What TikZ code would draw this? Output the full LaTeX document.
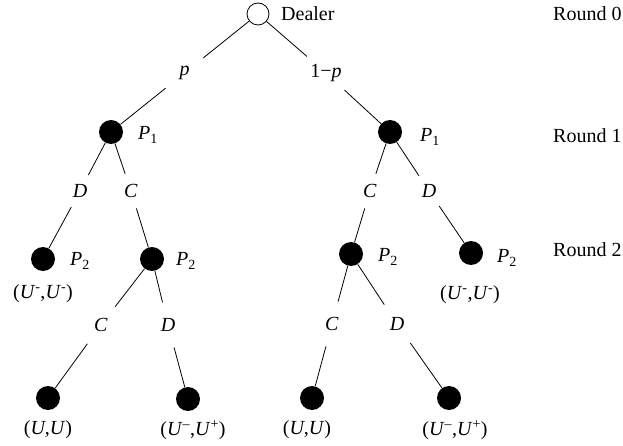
\documentclass[tikz,border=0pt]{standalone}
\usepackage{fontspec}
\setmainfont{Liberation Serif}
\begin{document}
\begin{tikzpicture}[x=1pt,y=-1pt,font=\fontsize{20}{24}\selectfont,
  dot/.style={circle,fill=black,inner sep=0pt,minimum size=24pt},
  opendot/.style={circle,draw,line width=0.8pt,inner sep=0pt,minimum size=22pt},
  lab/.style={circle,inner sep=0pt,minimum size=#1},
  lab/.default=36pt,
  conn/.style={line width=0.8pt},
  txt/.style={inner sep=0pt}]
\useasboundingbox (0,0) rectangle (623,446);
% decision nodes
\node[opendot] (root) at (258,14) {};
\node[dot] (L1) at (111,132) {};
\node[dot] (R1) at (390,132) {};
\node[dot] (LL2) at (43,259) {};
\node[dot] (LR2) at (152,259) {};
\node[dot] (RL2) at (351,254) {};
\node[dot] (RR2) at (471,253) {};
\node[dot] (A) at (48,398) {};
\node[dot] (B) at (188,399) {};
\node[dot] (Cc) at (312,398) {};
\node[dot] (Dd) at (449,398) {};
% edge labels
\node[lab=48pt] (p) at (184.5,73) {\textit{p}};
\node[lab=50pt] (q) at (326,73) {1−\textit{p}};
\node[lab] (D1L) at (80,191) {\textit{D}};
\node[lab] (C1L) at (131,191) {\textit{C}};
\node[lab] (C1R) at (370,191) {\textit{C}};
\node[lab] (D1R) at (429,191) {\textit{D}};
\node[lab=46pt] (C2L) at (101,325) {\textit{C}};
\node[lab=46pt] (D2L) at (168,325) {\textit{D}};
\node[lab=46pt] (C2R) at (332,324) {\textit{C}};
\node[lab=46pt] (D2R) at (397,324) {\textit{D}};
% connectors
\draw[conn] (root) -- (p) -- (L1);
\draw[conn] (root) -- (q) -- (R1);
\draw[conn] (L1) -- (D1L) -- (LL2);
\draw[conn] (L1) -- (C1L) -- (LR2);
\draw[conn] (R1) -- (C1R) -- (RL2);
\draw[conn] (R1) -- (D1R) -- (RR2);
\draw[conn] (LR2) -- (C2L) -- (A);
\draw[conn] (LR2) -- (D2L) -- (B);
\draw[conn] (RL2) -- (C2R) -- (Cc);
\draw[conn] (RL2) -- (D2R) -- (Dd);
% player labels
\node[txt,anchor=west] (dealer) at (281,14) {Dealer};
\node[txt] (pL1) at (148,135) {\textit{P}\textsubscript{1}};
\node[txt] (pR1) at (430,137) {\textit{P}\textsubscript{1}};
\node[txt] (pLL2) at (80,261) {\textit{P}\textsubscript{2}};
\node[txt] (pLR2) at (186,261) {\textit{P}\textsubscript{2}};
\node[txt] (pRL2) at (388,257) {\textit{P}\textsubscript{2}};
\node[txt] (pRR2) at (507,258) {\textit{P}\textsubscript{2}};
% payoffs
\node[txt] (uLL) at (43,294) {(\textit{U}\textsuperscript{-},\textit{U}\textsuperscript{-})};
\node[txt] (uRR) at (470,295) {(\textit{U}\textsuperscript{-},\textit{U}\textsuperscript{-})};
\node[txt] (uA) at (48,430) {(\textit{U},\textit{U})};
\node[txt] (uB) at (193,430) {(\textit{U}\textsuperscript{--},\textit{U}\textsuperscript{+})};
\node[txt] (uC) at (307,430) {(\textit{U},\textit{U})};
\node[txt] (uD) at (455,430) {(\textit{U}\textsuperscript{--},\textit{U}\textsuperscript{+})};
% rounds
\node[txt,anchor=west] (r0) at (553,14) {Round 0};
\node[txt,anchor=west] (r1) at (553,136) {Round 1};
\node[txt,anchor=west] (r2) at (553,250) {Round 2};
\end{tikzpicture}
\end{document}
